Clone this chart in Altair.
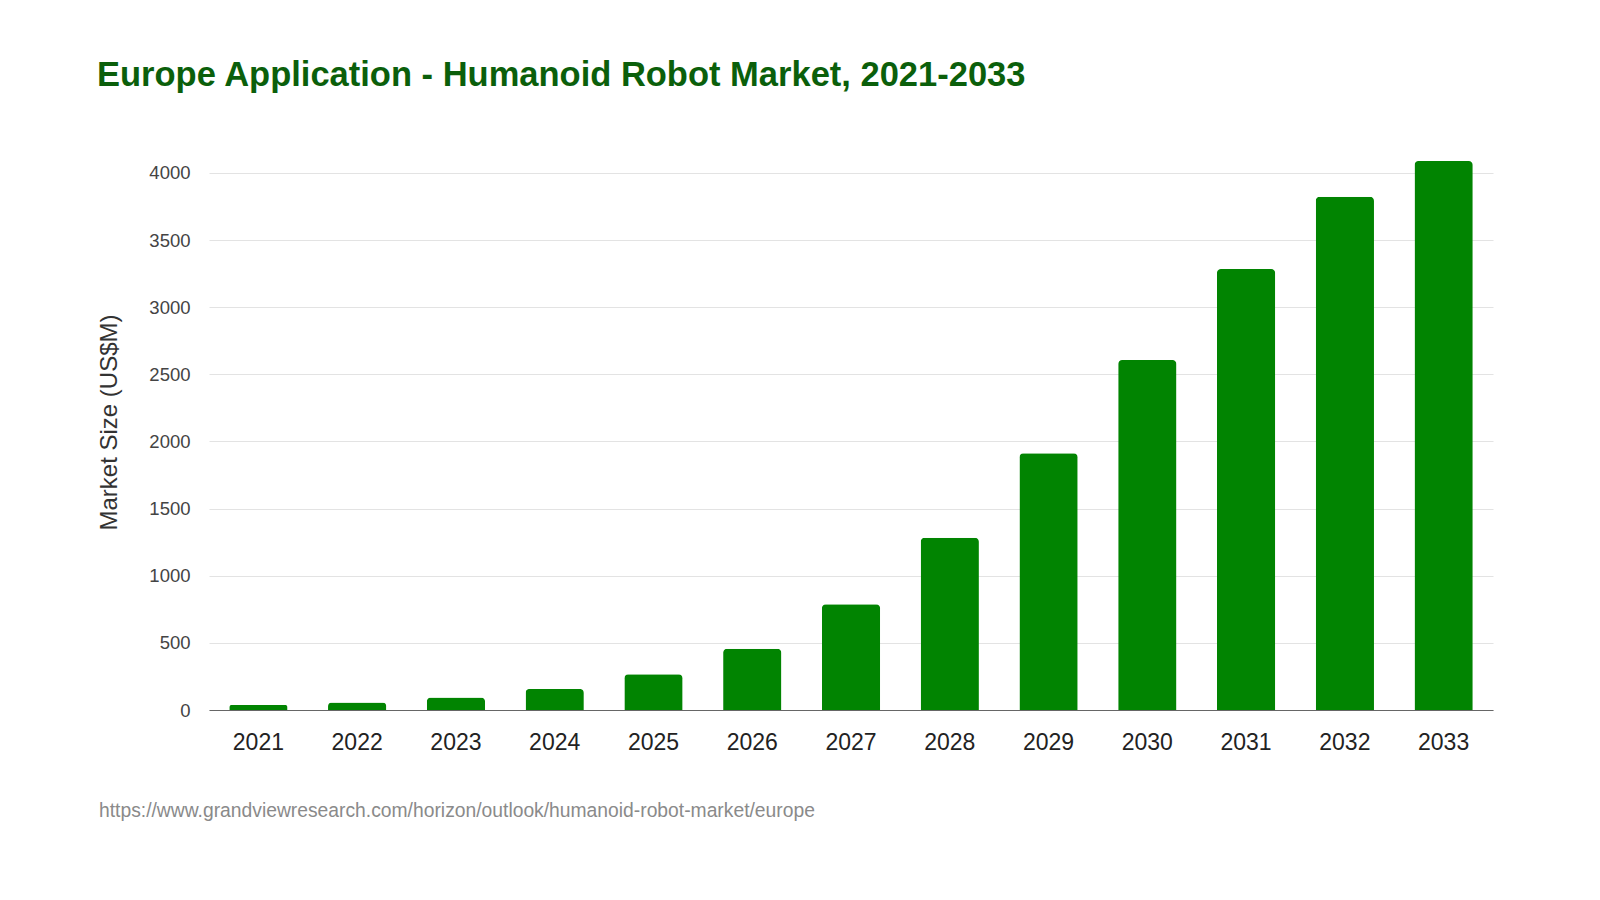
import altair as alt
import pandas as pd

years = ["2021", "2022", "2023", "2024", "2025", "2026", "2027",
         "2028", "2029", "2030", "2031", "2032", "2033"]
values = [38, 55, 93, 157, 266, 456, 788, 1282, 1912, 2606, 3284, 3822, 4088]
y_ticks = [0, 500, 1000, 1500, 2000, 2500, 3000, 3500, 4000]
title_text = "Europe Application - Humanoid Robot Market, 2021-2033"
y_title = "Market Size (US$M)"
source_text = "https://www.grandviewresearch.com/horizon/outlook/humanoid-robot-market/europe"

df = pd.DataFrame({"year": years, "value": values})

W, H = 1284, 564
FONT = "Liberation Sans"

bars = alt.Chart(df).mark_bar(
    color="#018401", cornerRadiusTopLeft=4, cornerRadiusTopRight=4
).encode(
    x=alt.X("year:N", sort=years,
            scale=alt.Scale(paddingInner=0.41, paddingOuter=0.205),
            axis=alt.Axis(title=None, labelAngle=0, labelFontSize=23,
                          labelColor="#222222", labelFont=FONT, labelPadding=21,
                          ticks=False, domain=True, domainColor="#666666",
                          domainWidth=1.2, grid=False)),
    y=alt.Y("value:Q", scale=alt.Scale(domain=[0, 4200], nice=False),
            axis=alt.Axis(title=y_title, values=y_ticks, format="d",
                          labelFontSize=18.5,
                          labelColor="#444444", labelFont=FONT, labelPadding=19,
                          ticks=False, domain=False, grid=True,
                          gridColor="#e3e3e3", gridWidth=1,
                          titleFont=FONT, titleFontSize=24, titleFontWeight="normal",
                          titleColor="#333333", titleAngle=-90,
                          titleBaseline="middle", titleAlign="center",
                          titleX=-100, titleY=H / 2 - 6)),
)

source = alt.Chart(pd.DataFrame({"t": [source_text]})).mark_text(
    align="left", baseline="middle", font=FONT, fontSize=19.3, color="#8a8a8a"
).encode(text="t:N", x=alt.value(-110), y=alt.value(665))

chart = alt.layer(bars, source).properties(
    width=W, height=H,
    title=alt.TitleParams(title_text, anchor="start", frame="group",
                          font=FONT, fontSize=34.5, fontWeight="bold",
                          color="#0b5f0b", dx=-112, offset=26,
                          baseline="alphabetic"),
    autosize=alt.AutoSizeParams(type="none"),
    padding={"left": 201, "top": 138, "right": 99, "bottom": 190},
).configure(background="white").configure_view(strokeWidth=0)

chart.save("out.html", embed_options={"renderer": "svg", "actions": False})
